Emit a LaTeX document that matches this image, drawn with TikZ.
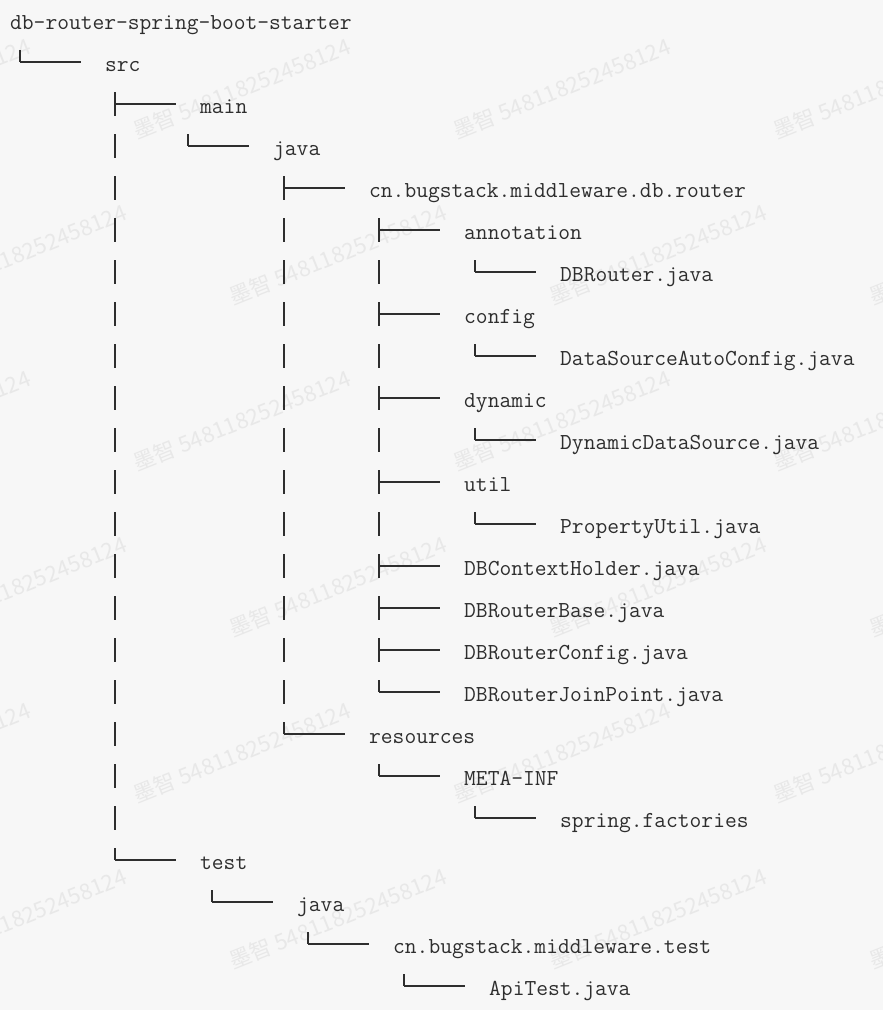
\documentclass[tikz,border=0pt]{standalone}
\usepackage{xcolor}
\usepackage{fontspec}
\usepackage{tikz}
\newfontfamily\wmfont{Noto Sans CJK SC}
\definecolor{paper}{HTML}{F7F7F7}
\definecolor{ink}{HTML}{2E2E2E}
\definecolor{mark}{HTML}{E8E8E8}

\begin{document}
\begin{tikzpicture}[x=1pt, y=-1pt,
    entry/.style={anchor=base west, inner sep=0pt, text height=18pt, text depth=0pt, text=ink,
        font=\fontsize{22.86}{26}\selectfont\ttfamily},
    twig/.style={draw=ink, line width=1.5pt},
    trunk/.style={draw=ink, line width=1.3pt, dash pattern=on 24pt off 18pt},
    wm/.style={anchor=base west, rotate=22, inner sep=0pt, text=mark,
        font=\wmfont\fontsize{22}{22}\selectfont}]
    \path[use as bounding box, fill=paper] (0, 0) rectangle (883, 1010);
    \clip (0, 0) rectangle (883, 1010);

    \foreach \x in {-183, 137, 457, 777}
        \foreach \y in {140, 472, 804}
            \node[wm] at (\x, \y) (wm-\x-\y) {墨智 548118252458124};
    \foreach \x in {-87, 233, 553, 873}
        \foreach \y in {306, 638, 970}
            \node[wm] at (\x, \y) (wm-\x-\y) {墨智 548118252458124};

    \node[entry] at (10, 29) (root) {db-router-spring-boot-starter};
    \node[entry] at (105, 71) (src) {src};
    \node[entry] at (200, 113) (main) {main};
    \node[entry] at (273, 155) (mainjava) {java};
    \node[entry] at (369, 197) (router) {cn.bugstack.middleware.db.router};
    \node[entry] at (464, 239) (annotation) {annotation};
    \node[entry] at (560, 281) (dbrouter) {DBRouter.java};
    \node[entry] at (464, 323) (config) {config};
    \node[entry] at (560, 365) (autoconfig) {DataSourceAutoConfig.java};
    \node[entry] at (464, 407) (dynamic) {dynamic};
    \node[entry] at (560, 449) (dynsource) {DynamicDataSource.java};
    \node[entry] at (464, 491) (util) {util};
    \node[entry] at (560, 533) (propertyutil) {PropertyUtil.java};
    \node[entry] at (464, 575) (holder) {DBContextHolder.java};
    \node[entry] at (464, 617) (routerbase) {DBRouterBase.java};
    \node[entry] at (464, 659) (routerconfig) {DBRouterConfig.java};
    \node[entry] at (464, 701) (joinpoint) {DBRouterJoinPoint.java};
    \node[entry] at (369, 743) (resources) {resources};
    \node[entry] at (464, 785) (metainf) {META-INF};
    \node[entry] at (560, 827) (factories) {spring.factories};
    \node[entry] at (200, 869) (test) {test};
    \node[entry] at (297, 911) (testjava) {java};
    \node[entry] at (393, 953) (testpkg) {cn.bugstack.middleware.test};
    \node[entry] at (489, 995) (apitest) {ApiTest.java};

    \foreach \a/\b in {src/src, main/test, mainjava/mainjava, router/resources,
        annotation/joinpoint, dbrouter/dbrouter, autoconfig/autoconfig,
        dynsource/dynsource, propertyutil/propertyutil, metainf/metainf,
        factories/factories, testjava/testjava, testpkg/testpkg, apitest/apitest}
        \draw[trunk] ([shift={(-85, -12)}]\a.west) -- ([xshift=-85pt]\b.west);
    \foreach \n in {src, main, mainjava, router, annotation, dbrouter, config,
        autoconfig, dynamic, dynsource, util, propertyutil, holder, routerbase,
        routerconfig, joinpoint, resources, metainf, factories, test, testjava,
        testpkg, apitest}
        \draw[twig] ([xshift=-85pt]\n.west) -- ([xshift=-24pt]\n.west);
\end{tikzpicture}
\end{document}
